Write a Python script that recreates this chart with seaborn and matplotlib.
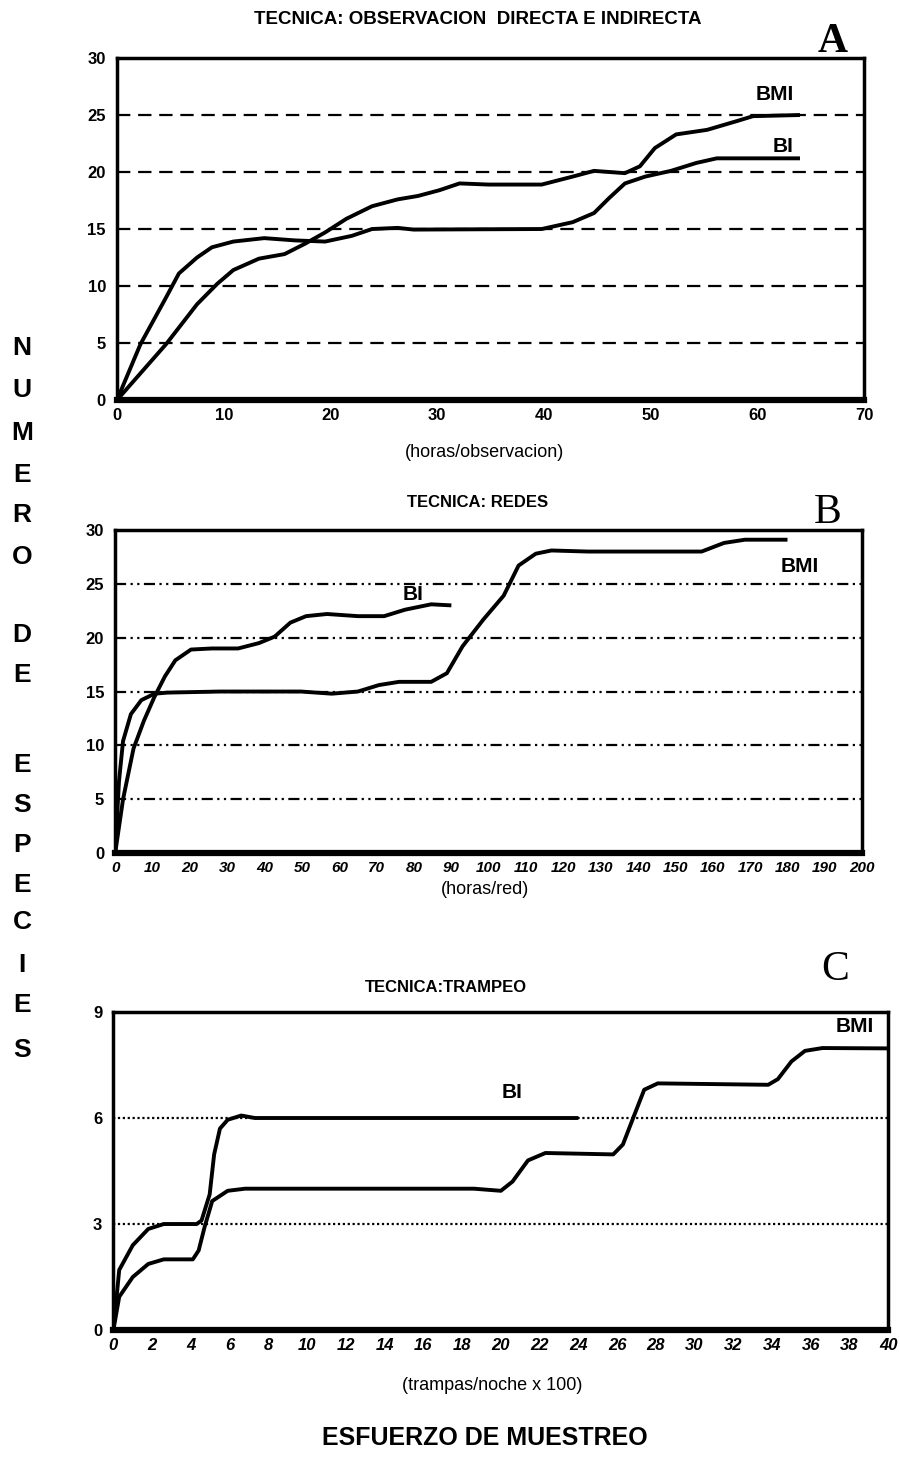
import seaborn as sns
import matplotlib.pyplot as plt
import numpy as np

# Panel A: observacion directa e indirecta (horas/observacion)
a_bmi_x = [0, 4.6, 7.5, 9.4, 10.9, 13.3, 15.7, 17.6, 19.5, 21.5, 23.9, 26.3, 28.2, 30.2,
           32.1, 34.8, 39.8, 42.7, 44.7, 47.6, 49.0, 50.4, 52.4, 55.3, 58.2, 59.6, 64]
a_bmi_y = [0, 4.9, 8.4, 10.2, 11.4, 12.4, 12.8, 13.7, 14.7, 15.9, 17.0, 17.6, 17.9, 18.4,
           19.0, 18.9, 18.9, 19.6, 20.1, 19.9, 20.5, 22.1, 23.3, 23.7, 24.5, 24.9, 25.0]
a_bi_x = [0, 2.2, 4.6, 5.8, 7.5, 8.9, 10.9, 13.8, 16.7, 19.5, 22, 23.9, 26.3, 27.8,
          39.8, 42.7, 44.7, 46.1, 47.6, 49.5, 51.9, 54.3, 56.2, 64]
a_bi_y = [0, 4.9, 9.0, 11.1, 12.5, 13.4, 13.9, 14.2, 14.0, 13.9, 14.4, 15.0, 15.1, 14.95,
          15.0, 15.6, 16.4, 17.7, 19.0, 19.6, 20.1, 20.8, 21.2, 21.2]

# Panel B: redes (horas/red)
b_bi_x = [0, 2.1, 4.9, 7.7, 10.5, 13.3, 16.1, 20.3, 25.9, 32.9, 38.5, 42.7, 46.9, 51.1,
          56.7, 65, 72, 77.6, 84.6, 90]
b_bi_y = [0, 5, 9.7, 12.3, 14.5, 16.4, 17.9, 18.9, 19, 19, 19.5, 20.1, 21.4, 22,
          22.2, 22, 22, 22.6, 23.1, 23]
b_bmi_x = [0, 1, 2.1, 4.2, 7, 10.5, 14, 28, 49.7, 58, 65, 70.6, 76, 84.6, 88.8, 93,
           98.6, 104, 108, 112.6, 116.8, 126.6, 157, 163, 168.6, 180]
b_bmi_y = [0, 6.6, 10.4, 12.9, 14.2, 14.8, 14.9, 15, 15, 14.8, 15, 15.6, 15.9, 15.9, 16.7, 19.2,
           21.7, 23.9, 26.7, 27.8, 28.1, 28, 28, 28.8, 29.1, 29.1]

# Panel C: trampeo (trampas/noche x 100)
c_bi_x = [0, 0.3, 1, 1.8, 2.6, 4.3, 4.55, 4.97, 5.2, 5.5, 5.9, 6.6, 7.3, 24]
c_bi_y = [0, 1.7, 2.4, 2.86, 3, 3, 3.1, 3.84, 4.97, 5.7, 5.95, 6.07, 6.0, 6.0]
c_bmi_x = [0, 0.3, 1, 1.8, 2.6, 4.1, 4.4, 4.7, 5.1, 5.9, 6.8, 18.6, 20, 20.6, 21.4, 22.3,
           25.8, 26.3, 26.9, 27.4, 28.1, 33.8, 34.3, 35, 35.7, 36.6, 40]
c_bmi_y = [0, 0.94, 1.5, 1.87, 2.0, 2.0, 2.25, 2.9, 3.65, 3.94, 4.0, 4.0, 3.94, 4.2, 4.8, 5.01,
           4.97, 5.25, 6.1, 6.8, 6.98, 6.94, 7.1, 7.6, 7.9, 7.98, 7.97]

sns.set_style('white')
plt.rcParams['font.family'] = ['Liberation Sans', 'DejaVu Sans']
plt.rcParams['font.weight'] = 'bold'
plt.rcParams['text.color'] = 'black'
plt.rcParams['xtick.color'] = 'black'
plt.rcParams['ytick.color'] = 'black'

W, H = 900, 1469
fig = plt.figure(figsize=(9, 14.69), dpi=100)


def px_text(x, y, s, **kw):
    fig.text(x / W, 1 - y / H, s, ha='center', va='center', color='black', **kw)


def setup(ax, xmax, xstep, ymax, ystep, grid_vals, grid_ls, italic, xsize=12):
    ax.set_xlim(0, xmax)
    ax.set_ylim(0, ymax)
    ax.set_xticks(np.arange(0, xmax + 0.1, xstep))
    ax.set_yticks(np.arange(0, ymax + 0.1, ystep))
    for v in grid_vals:
        ax.axhline(v, color='black', lw=1.6, ls=grid_ls, zorder=1)
    for side in ['top', 'left', 'right']:
        ax.spines[side].set_linewidth(2.5)
        ax.spines[side].set_color('black')
    ax.spines['bottom'].set_linewidth(4.5)
    ax.spines['bottom'].set_color('black')
    ax.tick_params(length=0, labelsize=12, pad=8)
    ax.tick_params(axis='x', labelsize=xsize, pad=6)
    style = 'italic' if italic else 'normal'
    for lab in ax.get_xticklabels() + ax.get_yticklabels():
        lab.set_fontweight('bold')
    for lab in ax.get_xticklabels():
        lab.set_fontstyle(style)
    for line in ax.get_lines():
        line.set_solid_joinstyle('round')
        line.set_solid_capstyle('butt')
    ax.set_xlabel('')
    ax.set_ylabel('')
    if ax.get_legend():
        ax.get_legend().remove()


# Panel A
axA = fig.add_axes([0.130, 0.7277, 0.830, 0.2328])
sns.lineplot(x=a_bmi_x, y=a_bmi_y, ax=axA, color='black', lw=2.8, zorder=3)
sns.lineplot(x=a_bi_x, y=a_bi_y, ax=axA, color='black', lw=2.8, zorder=3)
setup(axA, 70, 10, 30, 5, [5, 10, 15, 20, 25], (0, (6, 3.5)), False)

# Panel B
axB = fig.add_axes([0.128, 0.4193, 0.830, 0.2199])
sns.lineplot(x=b_bmi_x, y=b_bmi_y, ax=axB, color='black', lw=2.8, zorder=3)
sns.lineplot(x=b_bi_x, y=b_bi_y, ax=axB, color='black', lw=2.8, zorder=3)
setup(axB, 200, 10, 30, 5, [5, 10, 15, 20, 25], (0, (5, 2, 1, 2, 1, 2)), True, xsize=11)

# Panel C
axC = fig.add_axes([0.126, 0.0946, 0.861, 0.2165])
sns.lineplot(x=c_bmi_x, y=c_bmi_y, ax=axC, color='black', lw=2.8, zorder=3)
sns.lineplot(x=c_bi_x, y=c_bi_y, ax=axC, color='black', lw=2.8, zorder=3)
setup(axC, 40, 2, 9, 3, [3, 6], (0, (1, 1.2)), True)

# titles
px_text(478, 20, 'TECNICA: OBSERVACION  DIRECTA E INDIRECTA', fontsize=13.5, fontweight='bold')
px_text(478, 503, 'TECNICA: REDES', fontsize=12, fontweight='bold')
px_text(446, 988, 'TECNICA:TRAMPEO', fontsize=12, fontweight='bold')

# panel letters
px_text(833, 42, 'A', fontsize=30, family='Liberation Serif', fontweight='bold')
px_text(828, 513, 'B', fontsize=30, family='Liberation Serif', fontweight='normal')
px_text(835, 970, 'C', fontsize=30, family='Liberation Serif', fontweight='normal')

# axis labels
px_text(485, 453, '(horas/observacion)', fontsize=13, fontweight='normal')
px_text(485, 890, '(horas/red)', fontsize=13, fontweight='normal')
px_text(492, 1386, '(trampas/noche x 100)', fontsize=13, fontweight='normal')
px_text(485, 1438, 'ESFUERZO DE MUESTREO', fontsize=18, fontweight='bold')

# curve labels
px_text(775, 95, 'BMI', fontsize=15, fontweight='bold')
px_text(783, 147, 'BI', fontsize=15, fontweight='bold')
px_text(413, 595, 'BI', fontsize=15, fontweight='bold')
px_text(800, 566, 'BMI', fontsize=15, fontweight='bold')
px_text(512, 1093, 'BI', fontsize=15, fontweight='bold')
px_text(855, 1027, 'BMI', fontsize=15, fontweight='bold')

# stacked vertical y label
y_letters = ['N', 'U', 'M', 'E', 'R', 'O', 'D', 'E', 'E', 'S', 'P', 'E', 'C', 'I', 'E', 'S']
y_pos = [348, 390, 433, 475, 515, 557, 635, 675, 765, 805, 845, 885, 922, 965, 1005, 1050]
for ch, yp in zip(y_letters, y_pos):
    px_text(22, yp, ch, fontsize=19, fontweight='bold')

fig.savefig('out.png', dpi=100, facecolor='white')
